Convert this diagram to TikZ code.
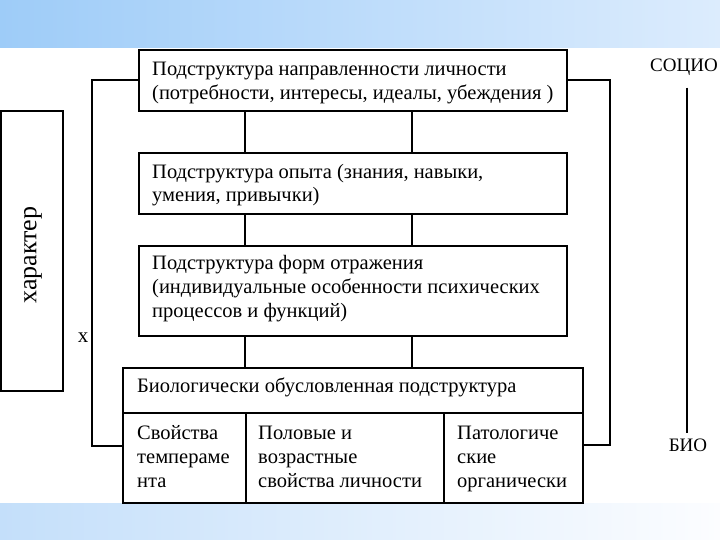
\documentclass[tikz,border=0pt]{standalone}
\usepackage{fontspec}
\setmainfont{Liberation Serif}
\begin{document}
\begin{tikzpicture}[x=1pt,y=-1pt,
  frame/.style={draw, line width=1.6pt, inner sep=0pt, anchor=north west, fill=white},
  txt/.style={inner sep=0pt, align=left, anchor=north west, font=\fontsize{20.5}{24}\selectfont},
  lbl/.style={inner sep=0pt, anchor=center, font=\fontsize{19}{23}\selectfont},
  wire/.style={line width=1.6pt}]
\useasboundingbox (0,0) rectangle (720,540);
\shade[left color={rgb,255:red,158;green,204;blue,248}, right color={rgb,255:red,220;green,236;blue,253}] (0,0) rectangle (720,48);
\shade[left color={rgb,255:red,196;green,223;blue,250}, right color={rgb,255:red,252;green,253;blue,255}] (0,503) rectangle (720,540);

% main boxes
\node[frame, minimum width=428pt, minimum height=61pt] (b1) at (138,49) {};
\node[frame, minimum width=428pt, minimum height=61pt] (b2) at (138,152) {};
\node[frame, minimum width=428pt, minimum height=90pt] (b3) at (138,245) {};
\node[frame, minimum width=460pt, minimum height=45pt] (hd) at (122,367) {};
\node[frame, minimum width=123pt, minimum height=90pt] (c1) at (122,412) {};
\node[frame, minimum width=198pt, minimum height=90pt] (c2) at (245,412) {};
\node[frame, minimum width=139pt, minimum height=90pt] (c3) at (443,412) {};
\node[frame, minimum width=62pt, minimum height=280pt] (ch) at (0,110) {};

% texts
\node[txt] (t1) at (152,59) {\strut Подструктура направленности личности\\(потребности, интересы, идеалы, убеждения )};
\node[txt] (t2) at (152,161) {\strut Подструктура опыта (знания, навыки,\\умения, привычки)};
\node[txt] (t3) at (152,252) {\strut Подструктура форм отражения\\(индивидуальные особенности психических\\процессов и функций)};
\node[txt] (th) at (137,375) {\strut Биологически обусловленная подструктура};
\node[txt] (tc1) at (137,422) {\strut Свойства\\темпераме\\нта};
\node[txt] (tc2) at (258,422) {\strut Половые и\\возрастные\\свойства личности};
\node[txt] (tc3) at (457,422) {\strut Патологиче\\ские\\органически};
\node[lbl, rotate=90, font=\fontsize{26}{30}\selectfont] (tch) at (33,255) {характер};
\node[lbl, font=\fontsize{21}{24}\selectfont] (tx) at (83,338) {х};
\node[lbl] (soc) at (684,67) {СОЦИО};
\node[lbl] (bio) at (688,445) {БИО};

% vertical links
\coordinate (xa) at (245,0);
\coordinate (xb) at (412,0);
\foreach \u/\v in {b1/b2, b2/b3, b3/hd}{
  \draw[wire] (\u.south -| xa) -- (\v.north -| xa);
  \draw[wire] (\u.south -| xb) -- (\v.north -| xb);
}
% brackets
\coordinate (lb) at (92,446);
\coordinate (rb) at (610,445);
\draw[wire] (b1.west) -| (lb) -- (lb -| c1.west);
\draw[wire] (b1.east) -| (rb) -- (rb -| c3.east);
% socio-bio axis
\coordinate (ax) at (687,0);
\draw[wire] ([yshift=-12pt]soc.south -| ax) -- ([yshift=5pt]bio.north -| ax);
\end{tikzpicture}
\end{document}
